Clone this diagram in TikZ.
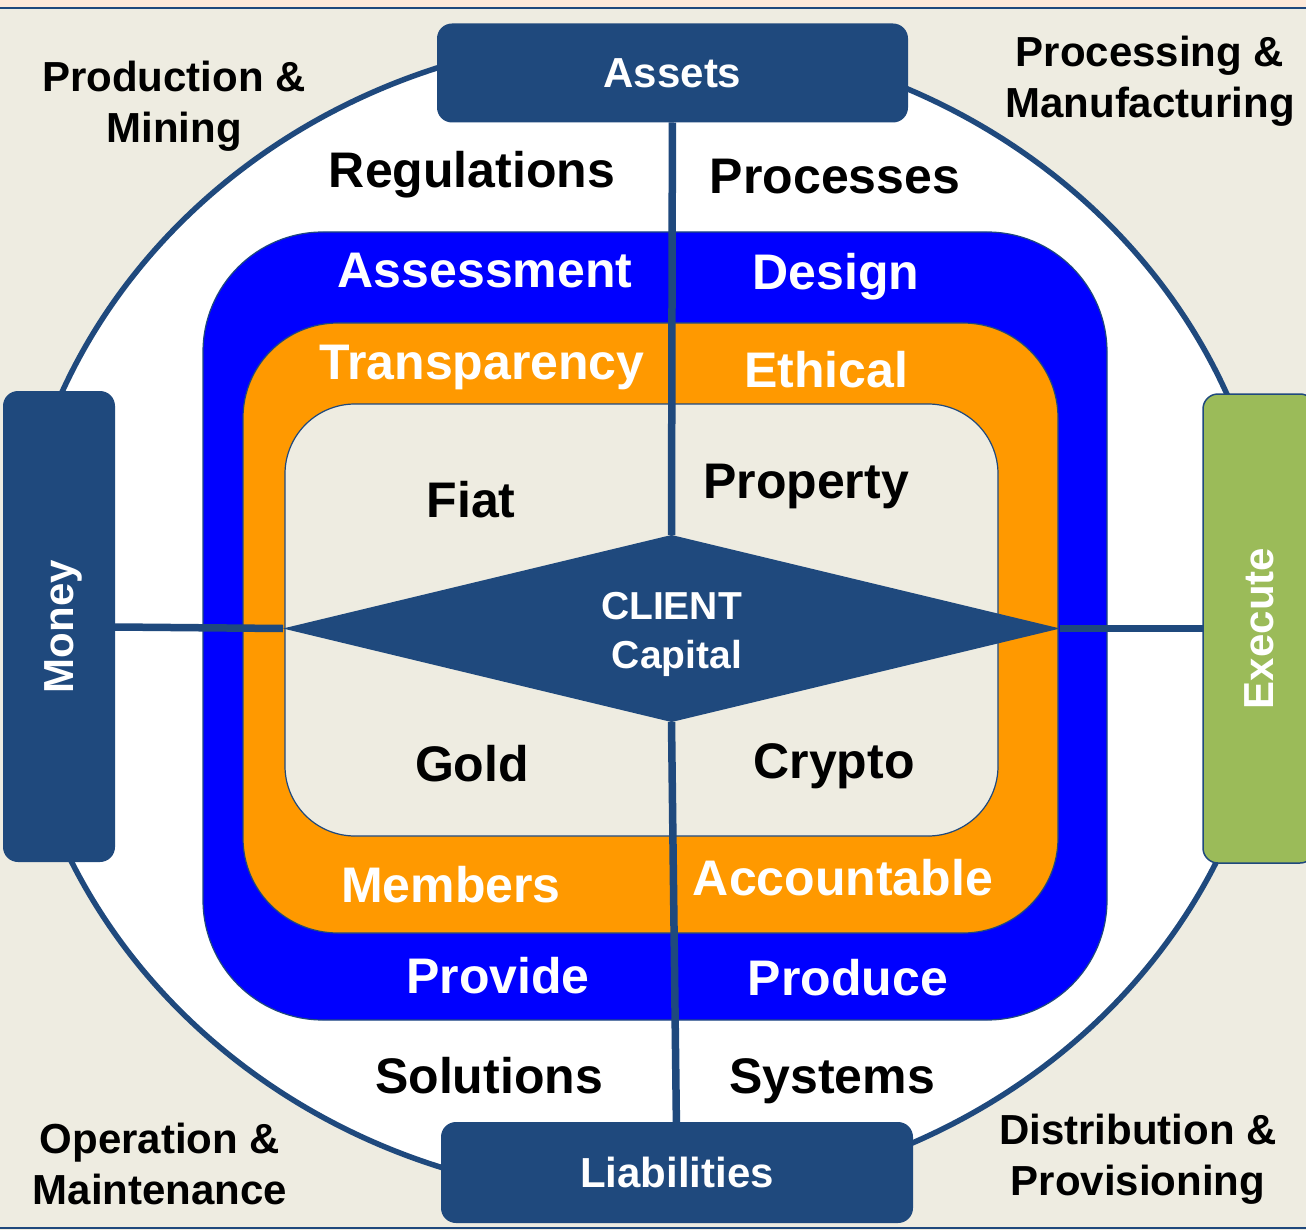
\documentclass[tikz,border=0pt]{standalone}
\usepackage{fontspec}
\setmainfont{Liberation Sans}
\usetikzlibrary{shapes.geometric}
\definecolor{navy}{HTML}{1F497D}
\definecolor{beige}{HTML}{EEECE1}
\definecolor{peach}{HTML}{FDE9D9}
\definecolor{pureblue}{HTML}{0000FF}
\definecolor{orng}{HTML}{FF9900}
\definecolor{grn}{HTML}{9BBB59}
\begin{document}
\begin{tikzpicture}[x=1pt,y=-1pt,
  lbl/.style={font=\bfseries\fontsize{50}{60}\selectfont, anchor=base, inner sep=0pt},
  wlbl/.style={lbl, text=white},
  corner/.style={font=\bfseries\fontsize{42}{51}\selectfont, align=center, inner sep=0pt},
  box/.style={fill=navy, rounded corners=15pt, text=white, font=\bfseries\fontsize{42}{50}\selectfont, inner sep=0pt, outer sep=0pt, text depth=0pt},
  ring/.style={draw=navy, line width=1.2pt},
  link/.style={draw=navy, line width=7.5pt}]
\useasboundingbox (0,0) rectangle (1306,1230);
\clip (0,0) rectangle (1306,1230);
% background
\fill[beige] (0,0) rectangle (1306,1230);
\fill[peach] (0,0) rectangle (1306,8);
\draw[navy, line width=1.5pt] (0,8) -- (1306,8);
\draw[navy, line width=1.5pt] (0,1228) -- (1306,1228);
% outer ellipse
\filldraw[fill=white, draw=navy, line width=5.5pt] (644,617) ellipse [x radius=631, y radius=581];
% boxes
\node[box, minimum width=471pt, minimum height=99pt] (assets) at (672.5,73) {Assets};
\node[box, minimum width=472pt, minimum height=101pt] (liab) at (677,1172.5) {Liabilities};
\node[box, rotate=90, minimum width=471pt, minimum height=112pt] (money) at (59,626.5) {Money};
\node[box, fill=grn, draw=navy, line width=1.5pt, rotate=90, minimum width=469pt, minimum height=112pt] (exec) at (1259,628.5) {Execute};
% rings
\filldraw[fill=pureblue, ring, rounded corners=120pt] (203,232) rectangle (1107,1020);
\filldraw[fill=orng, ring, rounded corners=95pt] (243,323) rectangle (1058,933);
\filldraw[fill=beige, ring, rounded corners=70pt] (285,404) rectangle (998,836);
% centre diamond
\node[diamond, aspect=4.155, fill=navy, minimum width=777pt, minimum height=187pt, inner sep=0pt, outer sep=0pt,
  text=white, font=\bfseries\fontsize{39}{49}\selectfont, align=center, text height=87pt, text depth=8pt]
  (client) at (671.5,628.5) {CLIENT\\\hspace*{11pt}Capital};
% connectors
\draw[link] (assets) -- (client.north);
\draw[link] (client.south) -- (liab);
\draw[link] (money) -- (client.west);
\draw[link] (client.east) -- (exec);
% labels
\node[lbl] (reg) at (472,188) {Regulations};
\node[lbl] (proc) at (835,194) {Processes};
\node[wlbl] (assess) at (485,288) {Assessment};
\node[wlbl] (design) at (836,290) {Design};
\node[wlbl] (transp) at (482,379) {Transparency};
\node[wlbl] (ethical) at (826,388) {Ethical};
\node[lbl] (fiat) at (471,517) {Fiat};
\node[lbl] (property) at (806,498) {Property};
\node[lbl] (gold) at (472,781) {Gold};
\node[lbl] (crypto) at (834,778) {Crypto};
\node[wlbl] (members) at (451,902) {Members};
\node[wlbl] (account) at (843,895) {Accountable};
\node[wlbl] (provide) at (498,993) {Provide};
\node[wlbl] (produce) at (848,995) {Produce};
\node[lbl] (solutions) at (489,1093) {Solutions};
\node[lbl] (systems) at (832,1093) {Systems};
% corner labels
\node[corner] (prodmin) at (174,106.6) {Production \&\\Mining};
\node[corner] (procman) at (1150,81.6) {Processing \&\\Manufacturing};
\node[corner] (opmaint) at (160,1163.7) {Operation \&\\Maintenance};
\node[corner] (distprov) at (1138,1159.1) {Distribution \&\\Provisioning};
\end{tikzpicture}
\end{document}
